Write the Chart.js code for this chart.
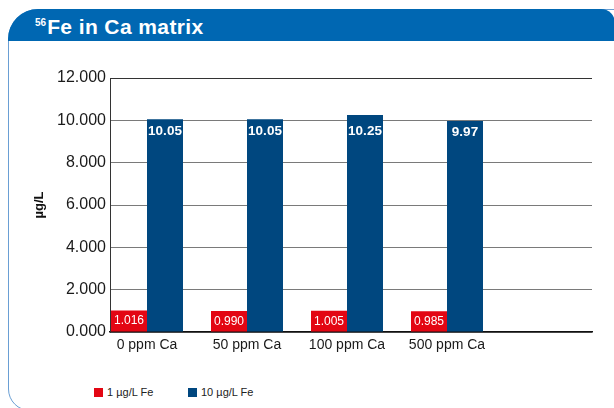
<!DOCTYPE html>
<html>
<head>
<meta charset="utf-8">
<script src="https://cdn.jsdelivr.net/npm/chart.js@4"></script>
<style>
  body { margin: 0; background: #fff; font-family: "Liberation Sans", Arial, sans-serif; }
  #wrap { position: relative; width: 614px; height: 408px; overflow: hidden; }
  #panel {
    position: absolute; left: 8px; top: 9px; width: 630px; height: 400px;
    border: 1px solid #6a9fd4; border-radius: 30px 14px 0 22px; overflow: hidden;
  }
  #header {
    position: absolute; left: 8px; top: 9px; width: 607px; height: 32px;
    background: #0067b2; border-radius: 30px 14px 0 0;
    color: #fff; font-weight: bold; font-size: 21px; letter-spacing: 0.4px;
  }
  #header span.t { position: absolute; left: 27px; top: 6px; line-height: 24px; }
  #header sup { font-size: 10px; letter-spacing: 0; vertical-align: 8px; line-height: 0; margin-right: 1px; }
  #chartBox { position: absolute; left: 0; top: 42px; width: 614px; height: 330px; }
  #legend { position: absolute; top: 385px; left: 0; font-size: 11px; color: #222; }
  .item { position: absolute; white-space: nowrap; }
  .item i { position: absolute; left: 0; top: 3px; width: 9px; height: 9px; }
  .item span { position: absolute; left: 13px; top: 0; line-height: 15px; }
</style>
</head>
<body>
<div id="wrap">
  <div id="panel"></div>
  <div id="header"><span class="t"><sup>56</sup>Fe in Ca matrix</span></div>
  <div id="chartBox"><canvas id="feChart"></canvas></div>
  <div id="legend"></div>
</div>
<script>
// categories and measured values
const categories = ['0 ppm Ca', '50 ppm Ca', '100 ppm Ca', '500 ppm Ca'];
const fe1 = [1.016, 0.990, 1.005, 0.985];
const fe10 = [10.05, 10.05, 10.25, 9.97];
const seriesNames = ['1 µg/L Fe', '10 µg/L Fe'];
const yTicks = [0, 2, 4, 6, 8, 10, 12];

const RED = '#e30613';
const BLUE = '#00477f';

const toPoints = vals => vals.map((v, i) => ({ x: i, y: v }));

// value labels inside the bars
const barLabels = {
  id: 'barLabels',
  afterDatasetsDraw(chart) {
    const ctx = chart.ctx;
    const yScale = chart.scales.y;
    ctx.save();
    ctx.fillStyle = '#fff';
    ctx.textAlign = 'center';
    ctx.textBaseline = 'middle';
    chart.data.datasets.forEach((ds, di) => {
      chart.getDatasetMeta(di).data.forEach((bar, i) => {
        const v = ds.data[i].y;
        if (di === 0) {
          ctx.font = '12px "Liberation Sans", Arial';
          ctx.fillText(v.toFixed(3), bar.x, bar.y + 10.5);
        } else {
          ctx.font = 'bold 13.5px "Liberation Sans", Arial';
          ctx.fillText(v.toFixed(2), bar.x, yScale.getPixelForValue(Math.min(v, 10)) + 11);
        }
      });
    });
    ctx.restore();
  }
};

const ctx = document.getElementById('feChart').getContext('2d');
const chart = new Chart(ctx, {
  type: 'bar',
  data: {
    datasets: [
      { label: seriesNames[0], data: toPoints(fe1), backgroundColor: RED },
      { label: seriesNames[1], data: toPoints(fe10), backgroundColor: BLUE }
    ]
  },
  options: {
    responsive: true,
    maintainAspectRatio: false,
    animation: false,
    categoryPercentage: 0.72,
    barPercentage: 1,
    layout: { padding: { top: 36, right: 22, bottom: 0, left: 0 } },
    plugins: { legend: { display: false }, tooltip: { enabled: false } },
    scales: {
      x: {
        type: 'linear',
        offset: false,
        min: -0.37,
        max: 4.45,
        afterBuildTicks: axis => { axis.ticks = categories.map((c, i) => ({ value: i })); },
        afterFit: axis => { axis.height = 40; },
        grid: { display: false, drawTicks: false, offset: false },
        border: { color: '#111', width: 1.5 },
        ticks: {
          autoSkip: false, maxRotation: 0, padding: 5,
          color: '#1a1a1a',
          font: { family: '"Liberation Sans", Arial', size: 14 },
          callback: v => categories[v]
        }
      },
      y: {
        min: 0,
        max: 12,
        afterBuildTicks: axis => { axis.ticks = yTicks.map(v => ({ value: v })); },
        afterFit: axis => { axis.width = 110; },
        grid: {
          drawTicks: false,
          color: c => c.tick && c.tick.value === 12 ? '#333' : '#7a7a7a',
          lineWidth: 1
        },
        border: { color: '#333', width: 1 },
        ticks: {
          padding: 4,
          color: '#1a1a1a',
          font: { family: '"Liberation Sans", Arial', size: 16 },
          callback: v => v.toFixed(3)
        },
        title: {
          display: true,
          text: 'µg/L',
          color: '#111',
          padding: { top: 32, bottom: 0 },
          font: { family: '"Liberation Sans", Arial', size: 13, weight: 'bold' }
        }
      }
    }
  },
  plugins: [barLabels]
});

// legend built from the datasets
const legendEl = document.getElementById('legend');
const legendX = [94, 188];
chart.data.datasets.forEach((ds, i) => {
  const item = document.createElement('div');
  item.className = 'item';
  item.style.left = legendX[i] + 'px';
  item.innerHTML = '<i style="background:' + ds.backgroundColor + '"></i><span>' + ds.label + '</span>';
  legendEl.appendChild(item);
});
</script>
</body>
</html>
